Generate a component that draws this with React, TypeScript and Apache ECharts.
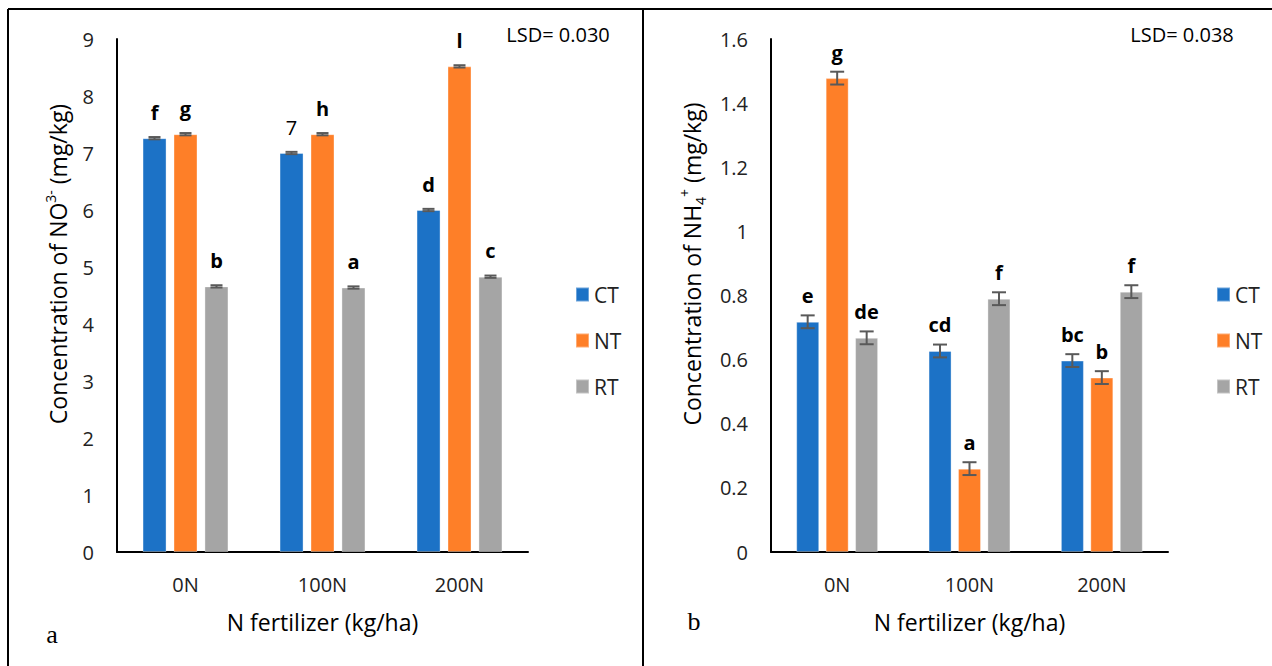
import React, { useEffect, useRef } from "react";
import * as echarts from "echarts";

const categories = ["0N", "100N", "200N"];
const seriesNames = ["CT", "NT", "RT"];

// Panel a: NO3- concentration
const no3CT = [7.26, 7.0, 6.0];
const no3NT = [7.33, 7.33, 8.52];
const no3RT = [4.66, 4.64, 4.83];
const no3Err = [0.02, 0.02, 0.02];
const no3LettersCT = ["f", "7", "d"];
const no3LettersNT = ["g", "h", "l"];
const no3LettersRT = ["b", "a", "c"];

// Panel b: NH4+ concentration
const nh4CT = [0.718, 0.627, 0.597];
const nh4NT = [1.478, 0.26, 0.544];
const nh4RT = [0.668, 0.79, 0.812];
const nh4Err = [0.02, 0.02, 0.02];
const nh4LettersCT = ["e", "cd", "bc"];
const nh4LettersNT = ["g", "a", "b"];
const nh4LettersRT = ["de", "f", "f"];

const no3Ticks = { min: 0, max: 9, interval: 1 };
const nh4Ticks = { min: 0, max: 1.6, interval: 0.2 };

const COLORS = ["#1C72C6", "#FE7F28", "#A5A5A5"];
const FONT = "Open Sans";

export default function App() {
  const ref = useRef<HTMLDivElement>(null);
  useEffect(() => {
    if (!ref.current) return;
    const chart = echarts.init(ref.current, null, { renderer: "svg" });

    const panels = [
      {
        vals: [no3CT, no3NT, no3RT],
        letters: [no3LettersCT, no3LettersNT, no3LettersRT],
        err: no3Err,
        barW: 24,
        step: 31,
      },
      {
        vals: [nh4CT, nh4NT, nh4RT],
        letters: [nh4LettersCT, nh4LettersNT, nh4LettersRT],
        err: nh4Err,
        barW: 23,
        step: 29.5,
      },
    ];

    const series: any[] = [];
    panels.forEach((p, pi) => {
      p.vals.forEach((arr, si) => {
        series.push({
          type: "bar",
          name: seriesNames[si],
          xAxisIndex: pi,
          yAxisIndex: pi,
          barWidth: p.barW,
          barGap: pi === 0 ? "29%" : "28%",
          itemStyle: { color: COLORS[si], borderColor: "rgba(255,255,255,0.35)", borderWidth: 1 },
          data: arr.map((v, i) => {
            const txt = p.letters[si][i];
            const isNum = /^[0-9]+$/.test(txt);
            return {
              value: v,
              label: {
                show: true,
                position: "top",
                distance: 16,
                formatter: txt,
                fontFamily: FONT,
                fontSize: 20,
                fontWeight: isNum ? "normal" : "bold",
                color: "#000",
              },
            };
          }),
        });
      });
      p.vals.forEach((arr, si) => {
        const offset = (si - 1) * p.step;
        const capHalf = pi === 0 ? 6 : 7;
        series.push({
          type: "custom",
          name: seriesNames[si] + "-err" + pi,
          xAxisIndex: pi,
          yAxisIndex: pi,
          z: 5,
          silent: true,
          data: arr.map((v, i) => [i, v, p.err[i]]),
          renderItem: (params: any, api: any) => {
            const c = api.value(0);
            const v = api.value(1);
            const e = api.value(2);
            const hi = api.coord([c, v + e]);
            const lo = api.coord([c, v - e]);
            const x = hi[0] + offset;
            const st = { stroke: "#595959", lineWidth: 2 };
            return {
              type: "group",
              children: [
                { type: "line", shape: { x1: x, y1: hi[1], x2: x, y2: lo[1] }, style: st },
                { type: "line", shape: { x1: x - capHalf, y1: hi[1], x2: x + capHalf, y2: hi[1] }, style: st },
                { type: "line", shape: { x1: x - capHalf, y1: lo[1], x2: x + capHalf, y2: lo[1] }, style: st },
              ],
            };
          },
        });
      });
    });

    const xAxisBase = (gi: number) => ({
      type: "category",
      gridIndex: gi,
      data: categories,
      axisLine: { lineStyle: { color: "#000", width: 2 } },
      axisTick: { show: false },
      axisLabel: { fontFamily: FONT, fontSize: 20, color: "#222", margin: 22 },
      name: "N fertilizer (kg/ha)",
      nameLocation: "middle",
      nameGap: 58,
      nameTextStyle: { fontFamily: FONT, fontSize: 23, color: "#000" },
    });
    const yAxisBase = (gi: number, t: any) => ({
      type: "value",
      gridIndex: gi,
      min: t.min,
      max: t.max,
      interval: t.interval,
      splitLine: { show: false },
      axisLine: { show: true, lineStyle: { color: "#000", width: 2 } },
      axisTick: { show: false },
      axisLabel: { fontFamily: FONT, fontSize: 20, color: "#222", margin: 23 },
    });

    const rich = {
      n: { fontFamily: FONT, fontSize: 23, color: "#000", lineHeight: 30 },
      sup: { fontFamily: FONT, fontSize: 14, color: "#000", lineHeight: 18, verticalAlign: "top" },
      sub: { fontFamily: FONT, fontSize: 14, color: "#000", lineHeight: 18, verticalAlign: "bottom" },
    };

    const legendBase = (left: number) => ({
      data: seriesNames,
      orient: "vertical",
      left,
      top: 279,
      itemWidth: 13,
      itemHeight: 14,
      itemGap: 25,
      icon: "rect",
      textStyle: { fontFamily: FONT, fontSize: 21, color: "#222", lineHeight: 20, padding: [0, 0, 0, 0] },
    });

    chart.setOption({
      animation: false,
      backgroundColor: "#fff",
      grid: [
        { left: 117, top: 39, width: 411, height: 513 },
        { left: 771, top: 39, width: 397, height: 513 },
      ],
      xAxis: [xAxisBase(0), xAxisBase(1)],
      yAxis: [yAxisBase(0, no3Ticks), yAxisBase(1, nh4Ticks)],
      legend: [legendBase(570), legendBase(1211)],
      series,
      graphic: [
        { type: "line", shape: { x1: 8, y1: 9, x2: 1272, y2: 9 }, style: { stroke: "#000", lineWidth: 2 } },
        { type: "line", shape: { x1: 8, y1: 9, x2: 8, y2: 666 }, style: { stroke: "#000", lineWidth: 2 } },
        { type: "line", shape: { x1: 643, y1: 9, x2: 643, y2: 666 }, style: { stroke: "#000", lineWidth: 2 } },
        {
          type: "text",
          x: 58,
          y: 264,
          rotation: Math.PI / 2,
          style: {
            text: "{n|Concentration of NO}{sup|3-}{n| (mg/kg)}",
            rich,
            align: "center",
            verticalAlign: "middle",
          },
        },
        {
          type: "text",
          x: 692,
          y: 264,
          rotation: Math.PI / 2,
          style: {
            text: "{n|Concentration of NH}{sub|4}{sup|+}{n| (mg/kg)}",
            rich,
            align: "center",
            verticalAlign: "middle",
          },
        },
        {
          type: "text",
          x: 558,
          y: 34,
          style: { text: "LSD= 0.030", fontFamily: FONT, fontSize: 20, fill: "#000", align: "center", verticalAlign: "middle" },
        },
        {
          type: "text",
          x: 1182,
          y: 34,
          style: { text: "LSD= 0.038", fontFamily: FONT, fontSize: 20, fill: "#000", align: "center", verticalAlign: "middle" },
        },
        {
          type: "text",
          x: 52,
          y: 634,
          style: { text: "a", fontFamily: "Liberation Serif", fontSize: 26, fill: "#000", align: "center", verticalAlign: "middle" },
        },
        {
          type: "text",
          x: 694,
          y: 621,
          style: { text: "b", fontFamily: "Liberation Serif", fontSize: 26, fill: "#000", align: "center", verticalAlign: "middle" },
        },
      ],
    });
    return () => chart.dispose();
  }, []);
  return (
    <div
      ref={ref}
      style={{ position: "fixed", left: 0, top: 0, width: 1272, height: 666, background: "#fff" }}
    />
  );
}
